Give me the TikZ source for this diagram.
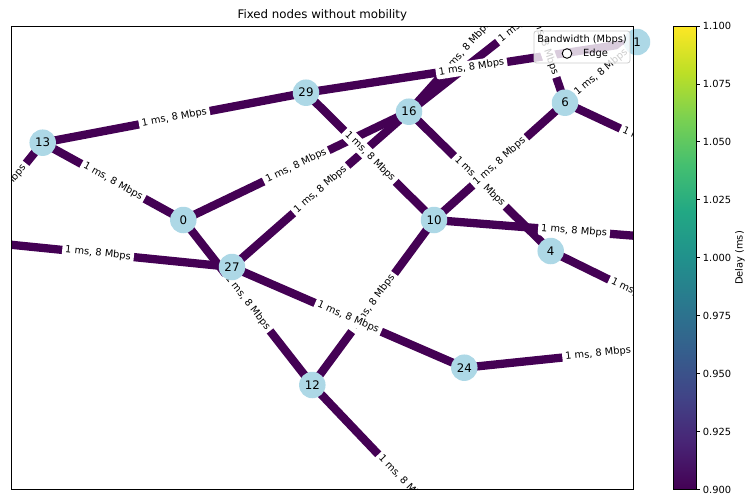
\documentclass[tikz,border=0pt]{standalone}
\usepackage{fontspec}
\setmainfont{DejaVu Sans}

\definecolor{nodeblue}{HTML}{ADD8E6}
\definecolor{edgeviolet}{HTML}{440154}
\definecolor{vir0}{HTML}{440154}
\definecolor{vir1}{HTML}{482475}
\definecolor{vir2}{HTML}{414487}
\definecolor{vir3}{HTML}{355F8D}
\definecolor{vir4}{HTML}{2A788E}
\definecolor{vir5}{HTML}{21918C}
\definecolor{vir6}{HTML}{22A884}
\definecolor{vir7}{HTML}{44BF70}
\definecolor{vir8}{HTML}{7AD151}
\definecolor{vir9}{HTML}{BDDF26}
\definecolor{vir10}{HTML}{FDE725}

% viridis colour ramp, bottom (low) to top (high); the path is mapped onto 25bp..75bp
\pgfdeclareverticalshading{viridis}{100bp}{%
  color(0bp)=(vir0); color(25bp)=(vir0); color(30bp)=(vir1); color(35bp)=(vir2);
  color(40bp)=(vir3); color(45bp)=(vir4); color(50bp)=(vir5); color(55bp)=(vir6);
  color(60bp)=(vir7); color(65bp)=(vir8); color(70bp)=(vir9); color(75bp)=(vir10);
  color(100bp)=(vir10)}

\pgfdeclarelayer{edgelayer}
\pgfdeclarelayer{labellayer}
\pgfdeclarelayer{toplayer}
\pgfsetlayers{edgelayer,labellayer,main,toplayer}

\newcommand{\nodefont}{\fontsize{11.8}{13}\selectfont}
\newcommand{\smallfont}{\fontsize{9.86}{11}\selectfont}

\tikzset{
  vert/.style={circle, fill=nodeblue, minimum size=26.5pt, inner sep=0pt, font=\nodefont},
  ghost/.style={circle, minimum size=26.5pt, inner sep=0pt},
  link/.style={draw=edgeviolet, line width=8.3pt},
  elabel/.style={sloped, pos=0.5, fill=white, rounded corners=2.5pt,
    inner xsep=3pt, inner ysep=2.2pt, font=\smallfont, text=black},
  frame/.style={draw=black, line width=0.8pt},
  tickmark/.style={draw=black, line width=0.8pt},
  ticklabel/.style={anchor=west, font=\smallfont, inner sep=0pt},
}

\begin{document}
\begin{tikzpicture}[x=1pt,y=-1pt]
\useasboundingbox (0,0) rectangle (746,493);

% graph vertices inside the plot area
\node[vert] (n13) at (42.7,142.7) {13};
\node[vert] (n29) at (306,92.7) {29};
\node[vert] (n16) at (409,111.7) {16};
\node[vert] (n6)  at (565,102.7) {6};
\node[vert] (n0)  at (183.3,220) {0};
\node[vert] (n27) at (232,267) {27};
\node[vert] (n10) at (434,220) {10};
\node[vert] (n4)  at (550.7,251) {4};
\node[vert] (n24) at (464.3,367.7) {24};
\node[vert] (n12) at (312.3,385) {12};
\node[vert] (n1)  at (637,42) {1};

% vertices lying outside the visible area
\node[ghost] (nL)  at (-36,240) {};
\node[ghost] (nT)  at (524,-16) {};
\node[ghost] (nB)  at (643,-72) {};
\node[ghost] (nR1) at (714,242) {};
\node[ghost] (nR2) at (732,340) {};
\node[ghost] (nR3) at (741,185) {};
\node[ghost] (nS)  at (494,576) {};

% links
\begin{pgfonlayer}{edgelayer}
\begin{scope}
  \clip (11,26) rectangle (633.5,489.5);
  \foreach \a/\b in {n13/n29, n13/n0, n13/nL, n29/n1, n29/n10, n16/n0, n16/n27,
      n16/nT, n16/nB, n16/n4, n6/n10, n6/nT, n6/n1, n6/nR3, n10/nR1, n10/n12,
      n0/n12, n27/nL, n27/n24, n12/nS, n24/nR2, n4/nR2}
    \draw[link] (\a.center) -- (\b.center);
\end{scope}
\end{pgfonlayer}

% link labels
\begin{pgfonlayer}{labellayer}
\begin{scope}
  \clip (11,26) rectangle (633.5,489.5);
  \foreach \a/\b in {n13/n29, n13/n0, n13/nL, n16/nT, n16/nB, n29/n1, n29/n10,
      n16/n0, n16/n27, n16/n4, n6/n10, n6/nT, n6/n1, n6/nR3, n10/nR1, n10/n12,
      n0/n12, n27/nL, n27/n24, n12/nS, n24/nR2, n4/nR2}
    \path (\a.center) -- node[elabel] {1 ms, 8 Mbps} (\b.center);
\end{scope}
\end{pgfonlayer}

\begin{pgfonlayer}{toplayer}
  % plot frame and title
  \draw[frame] (11,26) rectangle (633.5,489.5);
  \node[font=\nodefont] (title) at (322.3,15.5) {Fixed nodes without mobility};

  % legend
  \draw[draw=black!20, line width=0.8pt, fill=white, fill opacity=0.8,
        rounded corners=2.5pt] (534,31) rectangle (630,63);
  \node[font=\smallfont] (legtitle) at (582,39.5) {Bandwidth (Mbps)};
  \node[circle, draw=black, fill=white, line width=0.9pt, minimum size=9.6pt,
        inner sep=0pt] (legmark) at (567,53.5) {};
  \node[font=\smallfont, anchor=west, inner sep=0pt] (legtext) at (583,53.5) {Edge};

  % colour bar
  \shade[shading=viridis] (673.3,26) rectangle (696.7,489.5);
  \draw[frame] (673.3,26) rectangle (696.7,489.5);
  \foreach \v [count=\i from 0] in {0.900,0.925,0.950,0.975,1.000,1.025,1.050,1.075,1.100} {
    \draw[tickmark] (696.7,489.5-57.9375*\i) -- (700.2,489.5-57.9375*\i);
    \node[ticklabel] (cb\i) at (702.7,489.5-57.9375*\i) {\v};
  }
  \node[font=\smallfont, rotate=90] (cblabel) at (740,258) {Delay (ms)};
\end{pgfonlayer}
\end{tikzpicture}
\end{document}
